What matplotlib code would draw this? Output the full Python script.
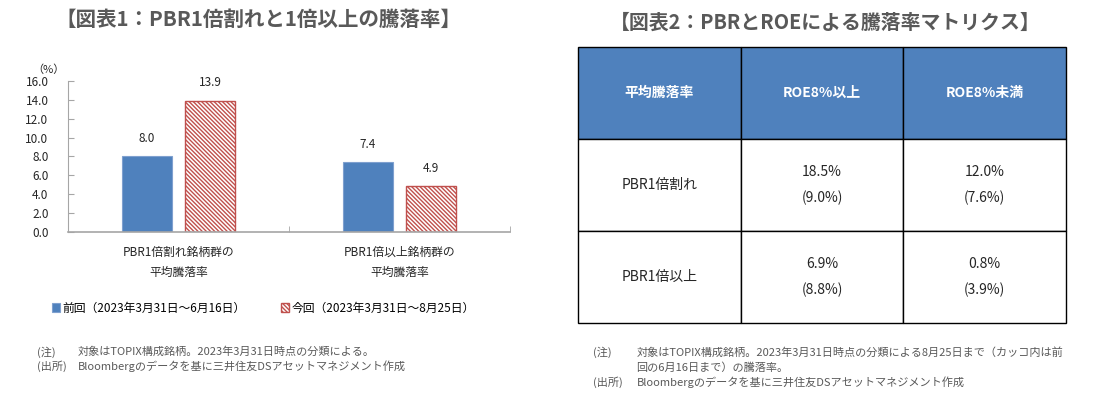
import matplotlib
matplotlib.use("Agg")
import matplotlib.pyplot as plt
import numpy as np

plt.rcParams['font.family'] = ['Noto Sans CJK JP', 'DejaVu Sans']
plt.rcParams['hatch.linewidth'] = 1.0

# chart 1 data
categories = ["PBR1倍割れ銘柄群の\n平均騰落率", "PBR1倍以上銘柄群の\n平均騰落率"]
prev_vals = [8.0, 7.4]
curr_vals = [13.9, 4.9]
series_names = ["前回（2023年3月31日～6月16日）", "今回（2023年3月31日～8月25日）"]
yticks = [0, 2, 4, 6, 8, 10, 12, 14, 16]

# chart 2 data
table_cols = ["平均騰落率", "ROE8%以上", "ROE8%未満"]
table_rows = ["PBR1倍割れ", "PBR1倍以上"]
now_rates = [[18.5, 12.0], [6.9, 0.8]]
before_rates = [[9.0, 7.6], [8.8, 3.9]]

BLUE = '#4F81BD'
RED = '#C0504D'
GRAY = '#595959'

fig = plt.figure(figsize=(11.11, 3.97), dpi=100)

# %% bar chart
ax = fig.add_axes([0.0612, 0.4149, 0.398, 0.3818])
x = np.arange(len(categories))
w = 0.225
b1 = ax.bar(x - 0.143, prev_vals, w, color=BLUE, edgecolor='#7FA0CF', linewidth=0.8,
            label=series_names[0])
b2 = ax.bar(x + 0.143, curr_vals, w, color='white', edgecolor=RED, hatch='\\' * 8,
            linewidth=1.0, label=series_names[1])
for bars in (b1, b2):
    for r in bars:
        ax.annotate(f"{r.get_height():.1f}", (r.get_x() + r.get_width() / 2, r.get_height()),
                    xytext=(0, 8), textcoords='offset points', ha='center', va='bottom',
                    fontsize=8.5, color='#262626')

ax.set_xlim(-0.5, 1.5)
ax.set_ylim(0, 16)
ax.set_yticks(yticks)
ax.set_yticklabels([f"{v:.1f}" for v in yticks])
ax.set_xticks(x)
ax.set_xticklabels(categories, linespacing=1.7)
ax.set_xticks([-0.5, 0.5, 1.5], minor=True)
ax.tick_params(axis='x', which='major', length=0, pad=10, labelsize=8.5, labelcolor='#262626')
ax.tick_params(axis='x', which='minor', direction='in', length=4, color='#A6A6A6')
ax.tick_params(axis='y', direction='in', length=4, color='#A6A6A6', labelsize=8.5,
               labelcolor='#262626', pad=14)
for s in ['top', 'right']:
    ax.spines[s].set_visible(False)
ax.spines['left'].set_color('#A6A6A6')
ax.spines['bottom'].set_color('#A6A6A6')
ax.spines['bottom'].set_linewidth(1.2)
ax.text(-0.045, 1.075, "（%）", transform=ax.transAxes, ha='center', va='center', fontsize=8,
        color='#262626')

fig.legend(handles=[b1, b2], loc='center', bbox_to_anchor=(0.237, 0.224), ncol=2,
           frameon=False, fontsize=8.5, handlelength=0.7, handleheight=0.7,
           handletextpad=0.2, columnspacing=3.0)

fig.text(0.233, 0.95, "【図表1：PBR1倍割れと1倍以上の騰落率】", ha='center', va='center',
         fontsize=14.8, fontweight='bold', color=GRAY)

fig.text(0.033, 1 - 352 / 397, "(注)", fontsize=8, color=GRAY, va='center')
fig.text(0.070, 1 - 352 / 397, "対象はTOPIX構成銘柄。2023年3月31日時点の分類による。",
         fontsize=8, color=GRAY, va='center')
fig.text(0.033, 1 - 366 / 397, "(出所)", fontsize=8, color=GRAY, va='center')
fig.text(0.070, 1 - 366 / 397, "Bloombergのデータを基に三井住友DSアセットマネジメント作成",
         fontsize=8, color=GRAY, va='center')

# %% matrix table
ax2 = fig.add_axes([0.5203, 0.1864, 0.4392, 0.6952])
ax2.axis('off')
cell_text = []
for i, rname in enumerate(table_rows):
    row = [rname]
    for j in range(len(table_cols) - 1):
        row.append(f"{now_rates[i][j]:.1f}%\n({before_rates[i][j]:.1f}%)")
    cell_text.append(row)
tbl = ax2.table(cellText=cell_text, colLabels=table_cols, cellLoc='center', bbox=[0, 0, 1, 1])
tbl.auto_set_font_size(False)
tbl.set_fontsize(10)
for (r, c), cell in tbl.get_celld().items():
    cell.set_edgecolor('black')
    cell.set_linewidth(1.0)
    t = cell.get_text()
    t.set_linespacing(2.0)
    if r == 0:
        cell.set_facecolor(BLUE)
        t.set_color('white')
        t.set_fontweight('bold')
    else:
        t.set_color('#262626')

fig.text(0.743, 0.945, "【図表2：PBRとROEによる騰落率マトリクス】", ha='center', va='center',
         fontsize=14.3, fontweight='bold', color=GRAY)

fig.text(0.534, 1 - 352 / 397, "(注)", fontsize=8, color=GRAY, va='center')
fig.text(0.573, 1 - 352 / 397,
         "対象はTOPIX構成銘柄。2023年3月31日時点の分類による8月25日まで（カッコ内は前",
         fontsize=8, color=GRAY, va='center')
fig.text(0.573, 1 - 368 / 397, "回の6月16日まで）の騰落率。", fontsize=8, color=GRAY, va='center')
fig.text(0.534, 1 - 382 / 397, "(出所)", fontsize=8, color=GRAY, va='center')
fig.text(0.573, 1 - 382 / 397, "Bloombergのデータを基に三井住友DSアセットマネジメント作成",
         fontsize=8, color=GRAY, va='center')

fig.savefig("out.png", dpi=100)
